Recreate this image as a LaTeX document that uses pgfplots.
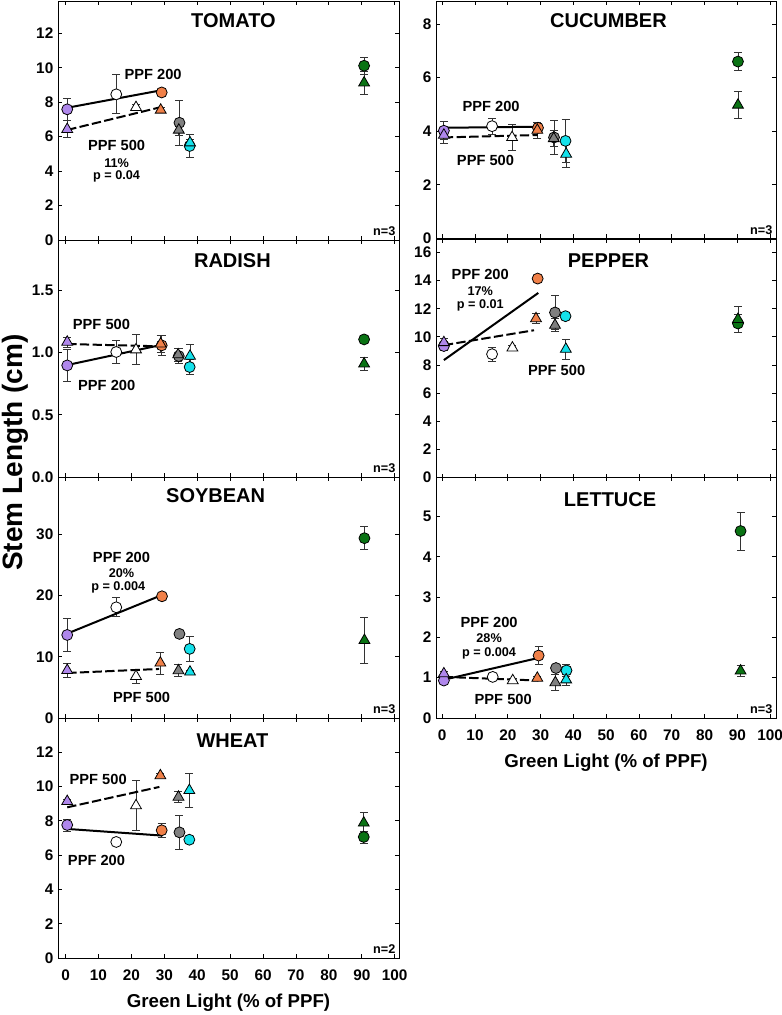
\documentclass[border=0pt]{standalone}
\usepackage{pgfplots}
\pgfplotsset{compat=1.18}
\usepackage{fontspec}
\setmainfont{Liberation Sans}

\definecolor{cP}{RGB}{175,135,235}
\definecolor{cO}{RGB}{240,128,72}
\definecolor{cG}{RGB}{128,128,128}
\definecolor{cC}{RGB}{20,225,235}
\definecolor{cN}{RGB}{10,115,20}

\tikzset{
  ttl/.style={font=\fontsize{15}{18}\selectfont\bfseries},
  lab/.style={font=\fontsize{11}{13}\selectfont\bfseries},
  stat/.style={font=\fontsize{9.5}{11}\selectfont\bfseries},
  nn/.style={font=\fontsize{9.5}{11}\selectfont\bfseries, anchor=south east, inner sep=0pt},
}

\pgfplotsset{
  panel/.style={
    scale only axis, anchor=north west,
    ymin=0, clip=false,
    xtick={0,10,...,100},
    tick align=inside, major tick length=3pt,
    tick style={black, line width=0.6pt},
    axis line style={line width=0.75pt},
    ticklabel style={font=\fontsize{11.5}{13}\selectfont\bfseries},
    xticklabel style={yshift=-5pt},
    /pgf/number format/assume math mode=true,
  },
  leftcol/.style={panel, xmin=-2.3, xmax=101.3, width=255.75pt},
  rightcol/.style={panel, xmin=-1.9, xmax=101.8, width=255pt},
  nolab/.style={xticklabels={}},
  xlab/.style={xlabel={Green Light (\% of PPF)},
    xlabel style={font=\fontsize{14}{17}\selectfont\bfseries,
      at={(axis description cs:0.5,0)}, anchor=center, yshift=-33.4pt}},
  pts/.style={scatter, only marks, scatter src=explicit symbolic,
    scatter/classes={p={fill=cP}, w={fill=white}, o={fill=cO},
      g={fill=cG}, c={fill=cC}, n={fill=cN}},
    mark options={draw=black, line width=0.6pt},
    error bars/y dir=both, error bars/y explicit,
    error bars/error bar style={draw=black!80, line width=0.6pt},
    error bars/error mark=-,
    error bars/error mark options={rotate=90, draw=black!80, line width=0.6pt, mark size=3pt}},
  circ/.style={pts, mark=*, mark size=4.1pt},
  tri/.style={pts, mark=triangle*, mark size=4.7pt},
  fit200/.style={black, line width=1.5pt, no marks},
  fit500/.style={black, line width=1.5pt, no marks, dash pattern=on 7pt off 2.5pt},
}

\begin{document}
\begin{tikzpicture}
\path[use as bounding box] (0,0) rectangle (586.5pt,-761.25pt);

% TOMATO
\begin{axis}[leftcol, nolab, at={(43.5pt,-0.75pt)}, height=179.25pt, ymax=13.88,
  ytick={0,2,...,12}]
\addplot[circ] table[x=x, y=y, y error=e, meta=c, row sep=\\] {
x y e c\\ 0.5 7.59 0.65 p\\ 15.4 8.46 1.13 w\\ 29.2 8.57 0.1 o\\ 34.6 6.81 1.3 g\\ 37.7 5.46 0.67 c\\ 90.7 10.12 0.5 n\\};
\addplot[tri] table[x=x, y=y, y error=e, meta=c, row sep=\\] {
x y e c\\ 0.5 6.43 0.5 p\\ 21.4 7.7 0.2 w\\ 28.9 7.55 0.15 o\\ 34.4 6.39 0.3 g\\ 37.8 5.65 0.2 c\\ 90.7 9.13 0.65 n\\};
\addplot[fit200] coordinates {(0.5,7.68) (29.2,8.7)};
\addplot[fit500] coordinates {(0.5,6.39) (28.6,7.7)};
\node[ttl] at (axis cs:51,12.73) {TOMATO};
\node[lab] at (axis cs:26.6,9.64) {PPF 200};
\node[lab] at (axis cs:15.5,5.48) {PPF 500};
\node[stat] at (axis cs:15.5,4.49) {11\%};
\node[stat] at (axis cs:15.5,3.68) {p = 0.04};
\node[nn] at (rel axis cs:0.99,0.017) {n=3};
\end{axis}

% RADISH
\begin{axis}[leftcol, nolab, at={(43.5pt,-180pt)}, height=177.75pt, ymax=1.905,
  ytick={0,0.5,1,1.5},
  yticklabel style={/pgf/number format/.cd, fixed, fixed zerofill, precision=1}]
\addplot[circ] table[x=x, y=y, y error=e, meta=c, row sep=\\] {
x y e c\\ 0.5 0.897 0.125 p\\ 15.4 1.005 0.09 w\\ 29.2 1.058 0.08 o\\ 34.4 0.972 0.06 g\\ 37.7 0.884 0.06 c\\ 90.7 1.106 0.02 n\\};
\addplot[tri] table[x=x, y=y, y error=e, meta=c, row sep=\\] {
x y e c\\ 0.5 1.085 0.04 p\\ 21.4 1.023 0.12 w\\ 28.9 1.07 0.07 o\\ 34.2 0.983 0.05 g\\ 37.8 0.972 0.09 c\\ 90.7 0.91 0.05 n\\};
\addplot[fit200] coordinates {(0.5,0.9) (29.3,1.063)};
\addplot[fit500] coordinates {(0.5,1.069) (29.3,1.05)};
\node[ttl] at (axis cs:50.7,1.74) {RADISH};
\node[lab] at (axis cs:10.9,1.227) {PPF 500};
\node[lab] at (axis cs:12.5,0.737) {PPF 200};
\node[nn] at (rel axis cs:0.99,0.017) {n=3};
\end{axis}

% SOYBEAN
\begin{axis}[leftcol, nolab, at={(43.5pt,-357.75pt)}, height=180.75pt, ymax=39.4,
  ytick={0,10,20,30}]
\addplot[circ] table[x=x, y=y, y error=e, meta=c, row sep=\\] {
x y e c\\ 0.5 13.58 2.7 p\\ 15.4 18.1 1.55 w\\ 29.3 19.9 0.3 o\\ 34.6 13.75 0.3 g\\ 37.7 11.3 2.0 c\\ 90.8 29.4 1.85 n\\};
\addplot[tri] table[x=x, y=y, y error=e, meta=c, row sep=\\] {
x y e c\\ 0.5 7.8 1.2 p\\ 21.4 6.82 1.2 w\\ 28.8 9.0 1.8 o\\ 34.3 7.75 1.0 g\\ 37.8 7.53 0.3 c\\ 90.8 12.7 3.7 n\\};
\addplot[fit200] coordinates {(0.5,13.8) (29.4,20.13)};
\addplot[fit500] coordinates {(0.5,7.36) (28.4,8.02)};
\node[ttl] at (axis cs:45.6,36.3) {SOYBEAN};
\node[lab] at (axis cs:17,26.3) {PPF 200};
\node[stat] at (axis cs:17,23.7) {20\%};
\node[stat] at (axis cs:16,21.4) {p = 0.004};
\node[lab] at (axis cs:23.1,3.38) {PPF 500};
\node[nn] at (rel axis cs:0.99,0.017) {n=3};
\end{axis}

% WHEAT
\begin{axis}[leftcol, xlab, at={(43.5pt,-538.5pt)}, height=180pt, ymax=14,
  ytick={0,2,...,12}]
\addplot[circ] table[x=x, y=y, y error=e, meta=c, row sep=\\] {
x y e c\\ 0.5 7.76 0.35 p\\ 15.4 6.77 0.1 w\\ 29.2 7.45 0.42 o\\ 34.6 7.33 1.0 g\\ 37.6 6.9 0.1 c\\ 90.6 7.06 0.35 n\\};
\addplot[tri] table[x=x, y=y, y error=e, meta=c, row sep=\\] {
x y e c\\ 0.5 9.14 0.1 p\\ 21.4 8.89 1.46 w\\ 28.8 10.64 0.1 o\\ 34.3 9.39 0.3 g\\ 37.6 9.78 0.97 c\\ 90.6 7.88 0.6 n\\};
\addplot[fit200] coordinates {(0.5,7.53) (29.4,7.14)};
\addplot[fit500] coordinates {(0.5,8.79) (28.5,9.98)};
\node[ttl] at (axis cs:50.7,12.7) {WHEAT};
\node[lab] at (axis cs:9.9,10.4) {PPF 500};
\node[lab] at (axis cs:9.4,5.68) {PPF 200};
\node[nn] at (rel axis cs:0.99,0.017) {n=2};
\end{axis}

% CUCUMBER
\begin{axis}[rightcol, nolab, at={(327pt,-0.75pt)}, height=178.1pt, ymax=8.86,
  ytick={0,2,...,8}]
\addplot[circ] table[x=x, y=y, y error=e, meta=c, row sep=\\] {
x y e c\\ 0.5 4.02 0.33 p\\ 15.2 4.19 0.3 w\\ 29.2 4.13 0.15 o\\ 34.1 3.77 0.65 g\\ 37.6 3.64 0.8 c\\ 90.2 6.6 0.33 n\\};
\addplot[tri] table[x=x, y=y, y error=e, meta=c, row sep=\\] {
x y e c\\ 0.5 3.86 0.3 p\\ 21.3 3.77 0.47 w\\ 29 4.04 0.3 o\\ 34 3.73 0.3 g\\ 37.8 3.15 0.5 c\\ 90.2 4.98 0.5 n\\};
\addplot[fit200] coordinates {(0.5,4.13) (29.2,4.17)};
\addplot[fit500] coordinates {(0.5,3.77) (29.2,3.86)};
\node[ttl] at (axis cs:50.7,8.12) {CUCUMBER};
\node[lab] at (axis cs:14.9,4.91) {PPF 200};
\node[lab] at (axis cs:13.2,2.92) {PPF 500};
\node[nn] at (rel axis cs:0.99,0.017) {n=3};
\end{axis}

% PEPPER
\begin{axis}[rightcol, nolab, at={(327pt,-179.25pt)}, height=179pt, ymax=16.95,
  ytick={0,2,...,16}]
\addplot[circ] table[x=x, y=y, y error=e, meta=c, row sep=\\] {
x y e c\\ 0.5 9.35 0.3 p\\ 15.2 8.77 0.5 w\\ 29.1 14.14 0.2 o\\ 34.4 11.73 1.2 g\\ 37.6 11.47 0.2 c\\ 90.2 10.95 0.65 n\\};
\addplot[tri] table[x=x, y=y, y error=e, meta=c, row sep=\\] {
x y e c\\ 0.5 9.6 0.3 p\\ 21.4 9.22 0.15 w\\ 28.6 11.3 0.35 o\\ 34.4 10.83 0.45 g\\ 37.7 9.13 0.7 c\\ 90.2 11.25 0.9 n\\};
\addplot[fit200] coordinates {(0.5,8.35) (29.3,13.12)};
\addplot[fit500] coordinates {(0.5,9.41) (28,10.47)};
\node[ttl] at (axis cs:50.7,15.4) {PEPPER};
\node[lab] at (axis cs:11.6,14.42) {PPF 200};
\node[stat] at (axis cs:11.6,13.24) {17\%};
\node[stat] at (axis cs:11.6,12.2) {p = 0.01};
\node[lab] at (axis cs:34.9,7.64) {PPF 500};
\end{axis}

% LETTUCE
\begin{axis}[rightcol, xlab, at={(327pt,-357.75pt)}, height=180.75pt, ymax=5.98,
  ytick={0,1,...,5}]
\addplot[circ] table[x=x, y=y, y error=e, meta=c, row sep=\\] {
x y e c\\ 0.5 0.93 0.05 p\\ 15.4 1.02 0.05 w\\ 29.4 1.55 0.23 o\\ 34.7 1.24 0.05 g\\ 37.9 1.18 0.14 c\\ 91 4.64 0.47 n\\};
\addplot[tri] table[x=x, y=y, y error=e, meta=c, row sep=\\] {
x y e c\\ 0.5 1.1 0.05 p\\ 21.5 0.93 0.05 w\\ 29 0.99 0.05 o\\ 34.5 0.88 0.2 g\\ 37.8 0.95 0.14 c\\ 91 1.17 0.14 n\\};
\addplot[fit200] coordinates {(0.5,0.95) (29.3,1.49)};
\addplot[fit500] coordinates {(0.5,1.02) (29.3,0.93)};
\node[ttl] at (axis cs:51.2,5.41) {LETTUCE};
\node[lab] at (axis cs:14.3,2.37) {PPF 200};
\node[stat] at (axis cs:14.3,1.98) {28\%};
\node[stat] at (axis cs:14.3,1.61) {p = 0.004};
\node[lab] at (axis cs:18.6,0.45) {PPF 500};
\node[nn] at (rel axis cs:0.99,0.017) {n=3};
\end{axis}

\node[rotate=90, anchor=base, font=\fontsize{21}{25}\selectfont\bfseries]
  at (16.5pt,-339.4pt) {Stem Length (cm)};
\end{tikzpicture}
\end{document}
